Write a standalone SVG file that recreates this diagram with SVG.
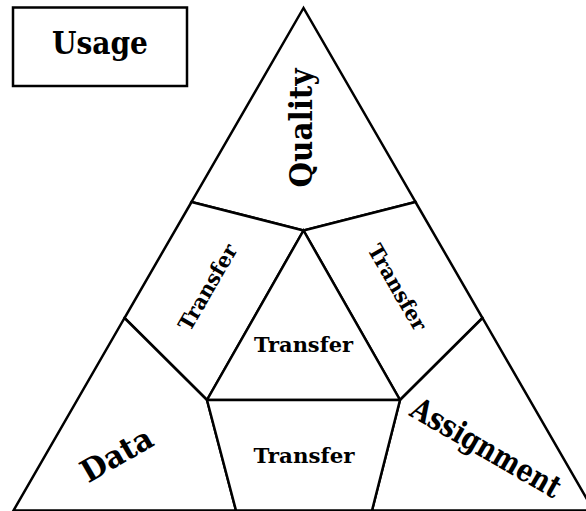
<svg xmlns="http://www.w3.org/2000/svg" width="586" height="511" viewBox="0 0 586 511">
  <style>
    .cell { fill: #ffffff; stroke: #000000; stroke-width: 2.5; stroke-linejoin: miter; }
    .box { fill: #ffffff; stroke: #000000; stroke-width: 2.5; }
    .lbl { font-family: "DejaVu Serif", "Liberation Serif", serif; font-weight: bold; fill: #000000; text-anchor: middle; }
    .big { font-size: 31px; }
    .small { font-size: 21px; }
  </style>
  <rect width="586" height="511" fill="#ffffff"/>

  <!-- legend box -->
  <g id="usage">
    <rect class="box" x="13" y="7.5" width="174" height="78.5"/>
    <text class="lbl big" x="100" y="54" textLength="96" lengthAdjust="spacingAndGlyphs">Usage</text>
  </g>

  <!-- triangle cells (shared borders act as the connectors) -->
  <g id="connectors">
    <g id="quality">
      <polygon class="cell" points="303.5,8 191.5,202 303.5,230.5 415.5,202"/>
      <text class="lbl big" transform="translate(312,128) rotate(-90)" textLength="119" lengthAdjust="spacingAndGlyphs">Quality</text>
    </g>
    <g id="transfer-left">
      <polygon class="cell" points="191.5,202 303.5,230.5 207,400 124.5,318"/>
      <text class="lbl small" transform="translate(214,291) rotate(-60)" textLength="96" lengthAdjust="spacingAndGlyphs">Transfer</text>
    </g>
    <g id="transfer-right">
      <polygon class="cell" points="415.5,202 303.5,230.5 400,400 482.5,318"/>
      <text class="lbl small" transform="translate(391,291) rotate(60)" textLength="96" lengthAdjust="spacingAndGlyphs">Transfer</text>
    </g>
    <g id="transfer-center">
      <polygon class="cell" points="303.5,230.5 207,400 400,400"/>
      <text class="lbl small" x="303.5" y="352" textLength="99" lengthAdjust="spacingAndGlyphs">Transfer</text>
    </g>
    <g id="data">
      <polygon class="cell" points="124.5,318 207,400 236,510.5 13.5,510.5"/>
      <text class="lbl big" transform="translate(122,464) rotate(-30)" textLength="78" lengthAdjust="spacingAndGlyphs">Data</text>
    </g>
    <g id="assignment">
      <polygon class="cell" points="482.5,318 400,400 372,510.5 593.5,510.5"/>
      <text class="lbl big" transform="translate(481,457) rotate(30)" textLength="168" lengthAdjust="spacingAndGlyphs">Assignment</text>
    </g>
    <g id="transfer-bottom">
      <polygon class="cell" points="207,400 400,400 372,510.5 236,510.5"/>
      <text class="lbl small" x="304" y="463" textLength="101" lengthAdjust="spacingAndGlyphs">Transfer</text>
    </g>
  </g>
</svg>
